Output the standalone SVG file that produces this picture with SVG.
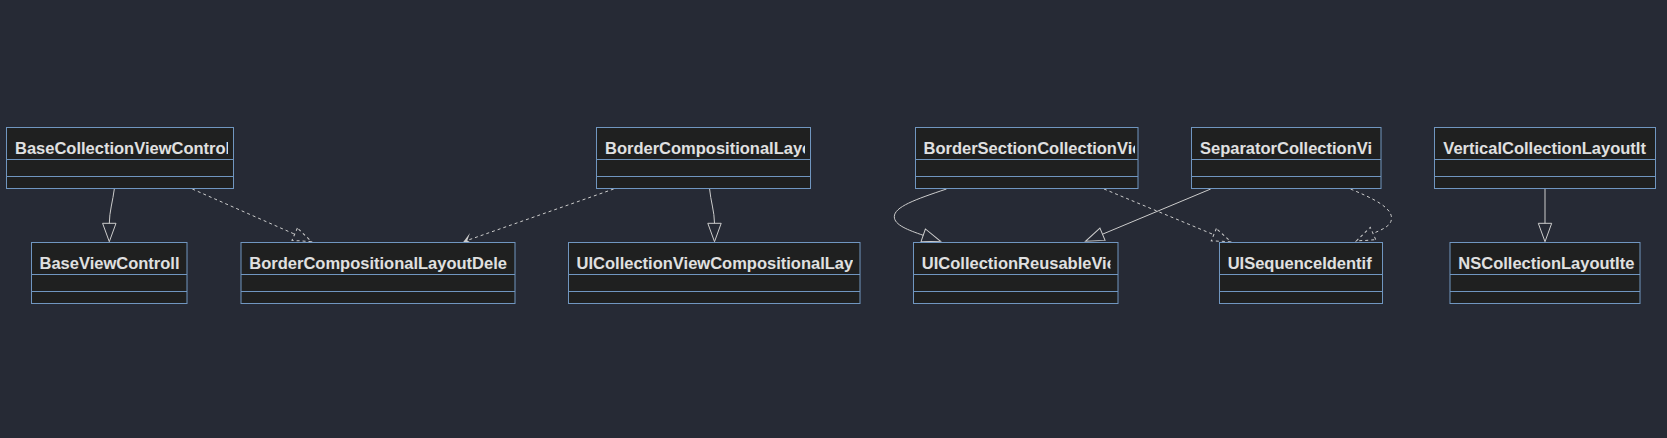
<svg xmlns="http://www.w3.org/2000/svg" width="1667" height="438" viewBox="0 0 1667 438">
<style>
.box{fill:#1f2020;stroke:#7096c0;stroke-width:1}
.div{stroke:#7096c0;stroke-width:1}
.t{font-family:"Liberation Sans",Arial,sans-serif;font-weight:bold;font-size:16.5px;fill:#e0e0e0}
.e{fill:none;stroke:#cccccc;stroke-width:1}
.d{stroke-dasharray:3 3}
</style>
<defs>
<marker id="ext" markerUnits="userSpaceOnUse" orient="auto" refX="0" refY="0" markerWidth="20" markerHeight="20" overflow="visible"><path d="M0,-6.7 L0,6.7 L18.4,0 Z" fill="none" stroke="#cccccc" stroke-width="1"/></marker>
<marker id="extd" markerUnits="userSpaceOnUse" orient="auto" refX="0" refY="0" markerWidth="20" markerHeight="20" overflow="visible"><path d="M0,-6.7 L0,6.7 L18.4,0 Z" fill="none" stroke="#cccccc" stroke-width="1" stroke-dasharray="3 3"/></marker>
<marker id="dep" markerUnits="userSpaceOnUse" orient="auto" refX="0" refY="0" markerWidth="12" markerHeight="14" overflow="visible"><path d="M0,0 L-9,-6 L-4,0 L-9,6 Z" fill="#cccccc"/></marker>
<clipPath id="cA"><rect x="6" y="127" width="222" height="30"/></clipPath>
<clipPath id="cB"><rect x="596" y="127" width="209" height="30"/></clipPath>
<clipPath id="cC"><rect x="915" y="127" width="220" height="30"/></clipPath>
<clipPath id="cD"><rect x="1191" y="127" width="182.5" height="30"/></clipPath>
<clipPath id="cE"><rect x="1434" y="127" width="213" height="30"/></clipPath>
<clipPath id="cF"><rect x="31" y="242" width="149" height="30"/></clipPath>
<clipPath id="cG"><rect x="241" y="242" width="266" height="30"/></clipPath>
<clipPath id="cH"><rect x="568" y="242" width="285" height="30"/></clipPath>
<clipPath id="cI"><rect x="913" y="242" width="197.5" height="30"/></clipPath>
<clipPath id="cJ"><rect x="1219" y="242" width="155" height="30"/></clipPath>
<clipPath id="cK"><rect x="1450" y="242" width="185" height="30"/></clipPath>
</defs>
<rect x="0" y="0" width="1667" height="438" fill="#262a35"/>
<g id="connectors">
<path class="e" d="M114.3,189 C113,200 109.3,212 109.3,223.3" marker-end="url(#ext)"/>
<path class="e d" d="M192.3,189 L294.7,234.2" marker-end="url(#extd)"/>
<path class="e d" d="M613.7,189 L463.5,241.7" marker-end="url(#dep)"/>
<path class="e" d="M709.6,189 C710.5,200 714.5,212 714.5,223.3" marker-end="url(#ext)"/>
<path class="e" d="M946.5,189 C915,199.5 894.3,207 894.3,216.7 C894.3,225 908,230 923.2,235.3" marker-end="url(#ext)"/>
<path class="e d" d="M1104,189 L1213.8,234.7" marker-end="url(#extd)"/>
<path class="e" d="M1210.7,189 L1102.5,234.2" marker-end="url(#ext)"/>
<path class="e d" d="M1350.5,189 C1372,198 1391.5,207 1391.5,218 C1391.5,226 1383,229 1373,233.5" marker-end="url(#extd)"/>
<path class="e" d="M1545,189 L1545,223.3" marker-end="url(#ext)"/>
</g>
<g id="BaseCollectionViewController">
<rect class="box" x="6.5" y="127.5" width="227" height="61"/>
<line class="div" x1="6.5" y1="159.5" x2="233.5" y2="159.5"/><line class="div" x1="6.5" y1="176.5" x2="233.5" y2="176.5"/>
<text class="t" x="15" y="154.2" clip-path="url(#cA)">BaseCollectionViewControl</text>
</g>
<g id="BorderCompositionalLayout">
<rect class="box" x="596.5" y="127.5" width="214" height="61"/>
<line class="div" x1="596.5" y1="159.5" x2="810.5" y2="159.5"/><line class="div" x1="596.5" y1="176.5" x2="810.5" y2="176.5"/>
<text class="t" x="605" y="154.2" clip-path="url(#cB)">BorderCompositionalLayo</text>
</g>
<g id="BorderSectionCollectionView">
<rect class="box" x="915.5" y="127.5" width="222.5" height="61"/>
<line class="div" x1="915.5" y1="159.5" x2="1138" y2="159.5"/><line class="div" x1="915.5" y1="176.5" x2="1138" y2="176.5"/>
<text class="t" x="923.5" y="154.2" clip-path="url(#cC)">BorderSectionCollectionVie</text>
</g>
<g id="SeparatorCollectionView">
<rect class="box" x="1191.5" y="127.5" width="189.5" height="61"/>
<line class="div" x1="1191.5" y1="159.5" x2="1381" y2="159.5"/><line class="div" x1="1191.5" y1="176.5" x2="1381" y2="176.5"/>
<text class="t" x="1200" y="154.2" clip-path="url(#cD)">SeparatorCollectionVi</text>
</g>
<g id="VerticalCollectionLayoutItem">
<rect class="box" x="1434.5" y="127.5" width="221" height="61"/>
<line class="div" x1="1434.5" y1="159.5" x2="1655.5" y2="159.5"/><line class="div" x1="1434.5" y1="176.5" x2="1655.5" y2="176.5"/>
<text class="t" x="1443.3" y="154.2" clip-path="url(#cE)">VerticalCollectionLayoutIt</text>
</g>
<g id="BaseViewController">
<rect class="box" x="31.5" y="242.5" width="155.5" height="61"/>
<line class="div" x1="31.5" y1="274.5" x2="187" y2="274.5"/><line class="div" x1="31.5" y1="291.5" x2="187" y2="291.5"/>
<text class="t" x="39.5" y="269.2" clip-path="url(#cF)">BaseViewControll</text>
</g>
<g id="BorderCompositionalLayoutDelegate">
<rect class="box" x="241" y="242.5" width="274" height="61"/>
<line class="div" x1="241" y1="274.5" x2="515" y2="274.5"/><line class="div" x1="241" y1="291.5" x2="515" y2="291.5"/>
<text class="t" x="249.3" y="269.2" clip-path="url(#cG)">BorderCompositionalLayoutDele</text>
</g>
<g id="UICollectionViewCompositionalLayout">
<rect class="box" x="568.5" y="242.5" width="291.5" height="61"/>
<line class="div" x1="568.5" y1="274.5" x2="860" y2="274.5"/><line class="div" x1="568.5" y1="291.5" x2="860" y2="291.5"/>
<text class="t" x="576.6" y="269.2" clip-path="url(#cH)">UICollectionViewCompositionalLay</text>
</g>
<g id="UICollectionReusableView">
<rect class="box" x="913.5" y="242.5" width="204.5" height="61"/>
<line class="div" x1="913.5" y1="274.5" x2="1118" y2="274.5"/><line class="div" x1="913.5" y1="291.5" x2="1118" y2="291.5"/>
<text class="t" x="921.8" y="269.2" clip-path="url(#cI)">UICollectionReusableVie</text>
</g>
<g id="UISequenceIdentifiable">
<rect class="box" x="1219.5" y="242.5" width="163" height="61"/>
<line class="div" x1="1219.5" y1="274.5" x2="1382.5" y2="274.5"/><line class="div" x1="1219.5" y1="291.5" x2="1382.5" y2="291.5"/>
<text class="t" x="1227.7" y="269.2" clip-path="url(#cJ)">UISequenceIdentif</text>
</g>
<g id="NSCollectionLayoutItem">
<rect class="box" x="1450" y="242.5" width="190" height="61"/>
<line class="div" x1="1450" y1="274.5" x2="1640" y2="274.5"/><line class="div" x1="1450" y1="291.5" x2="1640" y2="291.5"/>
<text class="t" x="1458.3" y="269.2" clip-path="url(#cK)">NSCollectionLayoutIte</text>
</g>
</svg>
